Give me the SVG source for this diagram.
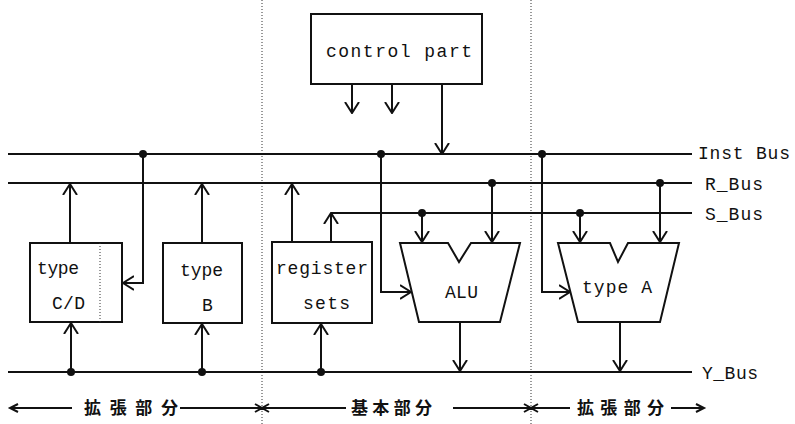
<svg xmlns="http://www.w3.org/2000/svg" width="795" height="424" viewBox="0 0 795 424">
<style>
.ln{fill:none;stroke:#111;stroke-width:2}
.bx{fill:#fff;stroke:#111;stroke-width:2}
.dt{fill:none;stroke:#333;stroke-width:1;stroke-dasharray:1,2}
.t{font-family:"Liberation Mono",monospace;font-size:18px;fill:#111}
.j{font-family:"Noto Sans CJK JP",sans-serif;font-size:17px;font-weight:bold;fill:#111}
.d{fill:#111}
</style>
<defs>
<marker id="a" viewBox="0 0 12 16" refX="11" refY="8" markerWidth="12" markerHeight="16" orient="auto" markerUnits="userSpaceOnUse">
<path d="M0,1 L11,8 L0,15" fill="none" stroke="#111" stroke-width="2"/>
</marker>
</defs>
<rect width="795" height="424" fill="#fff"/>
<g id="dividers">
<line class="dt" x1="262" y1="0" x2="262" y2="424"/>
<line class="dt" x1="531" y1="0" x2="531" y2="424"/>
</g>
<g id="buses">
<line class="ln" x1="8" y1="154" x2="692" y2="154"/>
<line class="ln" x1="8" y1="183" x2="692" y2="183"/>
<line class="ln" x1="331" y1="213" x2="692" y2="213"/>
<line class="ln" x1="8" y1="372" x2="692" y2="372"/>
<text class="t" x="698" y="159" textLength="92" lengthAdjust="spacing">Inst Bus</text>
<text class="t" x="705" y="190" textLength="58" lengthAdjust="spacing">R_Bus</text>
<text class="t" x="705" y="220" textLength="58" lengthAdjust="spacing">S_Bus</text>
<text class="t" x="702" y="379" textLength="56" lengthAdjust="spacing">Y_Bus</text>
</g>
<g id="connectors">
<line class="ln" x1="70" y1="243" x2="70" y2="184" marker-end="url(#a)"/>
<path class="ln" d="M143,154 V283 H123" marker-end="url(#a)"/>
<line class="ln" x1="71" y1="372" x2="71" y2="323" marker-end="url(#a)"/>
<line class="ln" x1="202" y1="243" x2="202" y2="184" marker-end="url(#a)"/>
<line class="ln" x1="202" y1="372" x2="202" y2="324" marker-end="url(#a)"/>
<line class="ln" x1="352" y1="84" x2="352" y2="113" marker-end="url(#a)"/>
<line class="ln" x1="392" y1="84" x2="392" y2="113" marker-end="url(#a)"/>
<line class="ln" x1="442" y1="84" x2="442" y2="154" marker-end="url(#a)"/>
<line class="ln" x1="292" y1="242" x2="292" y2="184" marker-end="url(#a)"/>
<line class="ln" x1="331" y1="242" x2="331" y2="213" marker-end="url(#a)"/>
<line class="ln" x1="321" y1="372" x2="321" y2="324" marker-end="url(#a)"/>
<path class="ln" d="M381,154 V292 H411" marker-end="url(#a)"/>
<line class="ln" x1="422" y1="213" x2="422" y2="242" marker-end="url(#a)"/>
<line class="ln" x1="492" y1="183" x2="492" y2="242" marker-end="url(#a)"/>
<line class="ln" x1="460" y1="322" x2="460" y2="371" marker-end="url(#a)"/>
<path class="ln" d="M542,154 V292 H570" marker-end="url(#a)"/>
<line class="ln" x1="580" y1="213" x2="580" y2="242" marker-end="url(#a)"/>
<line class="ln" x1="660" y1="183" x2="660" y2="242" marker-end="url(#a)"/>
<line class="ln" x1="620" y1="322" x2="620" y2="371" marker-end="url(#a)"/>
<circle class="d" cx="143" cy="154" r="4"/>
<circle class="d" cx="71" cy="372" r="4"/>
<circle class="d" cx="202" cy="372" r="4"/>
<circle class="d" cx="321" cy="372" r="4"/>
<circle class="d" cx="381" cy="154" r="4"/>
<circle class="d" cx="422" cy="213" r="4"/>
<circle class="d" cx="492" cy="183" r="4"/>
<circle class="d" cx="542" cy="154" r="4"/>
<circle class="d" cx="580" cy="213" r="4"/>
<circle class="d" cx="660" cy="183" r="4"/>
</g>
<g id="control">
<rect class="bx" x="311" y="14" width="171" height="70"/>
<text class="t" x="326" y="57" textLength="146" lengthAdjust="spacing">control part</text>
</g>
<g id="typeCD">
<rect class="bx" x="30" y="243" width="92" height="79"/>
<line class="dt" x1="100" y1="243" x2="100" y2="322"/>
<text class="t" x="37" y="274" textLength="42" lengthAdjust="spacing">type</text>
<text class="t" x="52" y="309" textLength="33" lengthAdjust="spacing">C/D</text>
</g>
<g id="typeB">
<rect class="bx" x="163" y="243" width="79" height="80"/>
<text class="t" x="180" y="276" textLength="43" lengthAdjust="spacing">type</text>
<text class="t" x="202" y="311">B</text>
</g>
<g id="register">
<rect class="bx" x="272" y="242" width="100" height="81"/>
<text class="t" x="276" y="274" textLength="92" lengthAdjust="spacing">register</text>
<text class="t" x="303" y="309" textLength="47" lengthAdjust="spacing">sets</text>
</g>
<g id="alu">
<path class="bx" d="M400,243 H448 L459,262 L471,243 H520 L500,322 H419 Z"/>
<text class="t" x="445" y="298" textLength="33" lengthAdjust="spacing">ALU</text>
</g>
<g id="typeA">
<path class="bx" d="M558,243 H610 L618,262 L628,243 H679 L660,322 H578 Z"/>
<text class="t" x="582" y="293" textLength="70" lengthAdjust="spacing">type A</text>
</g>
<g id="scope">
<path class="ln" stroke-width="1.5" d="M10,408 H72 M18,404 L10,408 L18,412"/>
<text class="j" x="84" y="414" textLength="94" lengthAdjust="spacing">拡張部分</text>
<path class="ln" stroke-width="1.5" d="M180,408 H346 M255,404 L262,408 L255,412 M269,404 L262,408 L269,412"/>
<text class="j" x="351" y="414" textLength="81" lengthAdjust="spacing">基本部分</text>
<path class="ln" stroke-width="1.5" d="M453,408 H570 M524,404 L531,408 L524,412 M538,404 L531,408 L538,412"/>
<text class="j" x="577" y="414" textLength="87" lengthAdjust="spacing">拡張部分</text>
<path class="ln" stroke-width="1.5" d="M671,408 H704 M696,404 L704,408 L696,412"/>
</g>
</svg>
